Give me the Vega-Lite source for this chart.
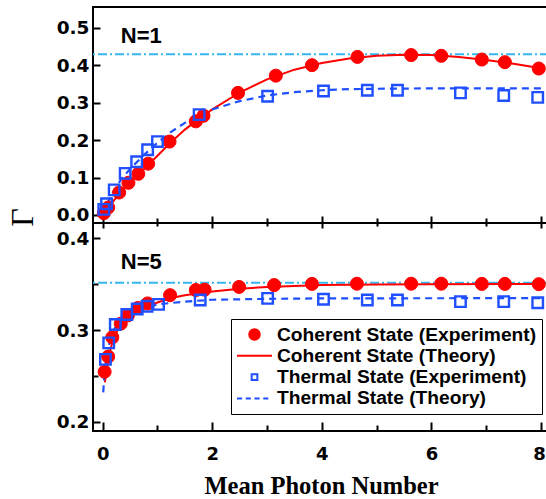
{
  "$schema": "https://vega.github.io/schema/vega-lite/v6.json",
  "background": "white",
  "padding": {"left": 5, "top": 6, "right": 0, "bottom": 0},
  "config": {
    "view": {"stroke": "black", "strokeWidth": 2},
    "axis": {"domain": false, "tickColor": "black", "tickWidth": 2, "grid": false, "labelFont": "DejaVu Sans", "labelFontWeight": "bold", "labelFontSize": 18.5, "labelColor": "black", "labelFlush": false, "labelOverlap": false}
  },
  "datasets": {
    "exp": [
      {"p": "N=1", "s": "Coherent State (Experiment)", "n": 0.02, "g": 0.005},
      {"p": "N=1", "s": "Coherent State (Experiment)", "n": 0.1, "g": 0.02},
      {"p": "N=1", "s": "Coherent State (Experiment)", "n": 0.3, "g": 0.06},
      {"p": "N=1", "s": "Coherent State (Experiment)", "n": 0.47, "g": 0.086},
      {"p": "N=1", "s": "Coherent State (Experiment)", "n": 0.65, "g": 0.11},
      {"p": "N=1", "s": "Coherent State (Experiment)", "n": 0.83, "g": 0.137},
      {"p": "N=1", "s": "Coherent State (Experiment)", "n": 1.22, "g": 0.196},
      {"p": "N=1", "s": "Coherent State (Experiment)", "n": 1.70, "g": 0.25},
      {"p": "N=1", "s": "Coherent State (Experiment)", "n": 1.84, "g": 0.265},
      {"p": "N=1", "s": "Coherent State (Experiment)", "n": 2.47, "g": 0.326},
      {"p": "N=1", "s": "Coherent State (Experiment)", "n": 3.16, "g": 0.372},
      {"p": "N=1", "s": "Coherent State (Experiment)", "n": 3.82, "g": 0.40},
      {"p": "N=1", "s": "Coherent State (Experiment)", "n": 4.65, "g": 0.422},
      {"p": "N=1", "s": "Coherent State (Experiment)", "n": 5.63, "g": 0.427},
      {"p": "N=1", "s": "Coherent State (Experiment)", "n": 6.18, "g": 0.425},
      {"p": "N=1", "s": "Coherent State (Experiment)", "n": 6.92, "g": 0.415},
      {"p": "N=1", "s": "Coherent State (Experiment)", "n": 7.34, "g": 0.408},
      {"p": "N=1", "s": "Coherent State (Experiment)", "n": 7.96, "g": 0.391},
      {"p": "N=1", "s": "Thermal State (Experiment)", "n": 0.02, "g": 0.015},
      {"p": "N=1", "s": "Thermal State (Experiment)", "n": 0.07, "g": 0.03},
      {"p": "N=1", "s": "Thermal State (Experiment)", "n": 0.21, "g": 0.067},
      {"p": "N=1", "s": "Thermal State (Experiment)", "n": 0.41, "g": 0.111},
      {"p": "N=1", "s": "Thermal State (Experiment)", "n": 0.62, "g": 0.142},
      {"p": "N=1", "s": "Thermal State (Experiment)", "n": 0.82, "g": 0.174},
      {"p": "N=1", "s": "Thermal State (Experiment)", "n": 1.0, "g": 0.196},
      {"p": "N=1", "s": "Thermal State (Experiment)", "n": 1.76, "g": 0.268},
      {"p": "N=1", "s": "Thermal State (Experiment)", "n": 3.01, "g": 0.317},
      {"p": "N=1", "s": "Thermal State (Experiment)", "n": 4.03, "g": 0.331},
      {"p": "N=1", "s": "Thermal State (Experiment)", "n": 4.83, "g": 0.333},
      {"p": "N=1", "s": "Thermal State (Experiment)", "n": 5.38, "g": 0.333},
      {"p": "N=1", "s": "Thermal State (Experiment)", "n": 6.53, "g": 0.326},
      {"p": "N=1", "s": "Thermal State (Experiment)", "n": 7.32, "g": 0.319},
      {"p": "N=1", "s": "Thermal State (Experiment)", "n": 7.94, "g": 0.314},
      {"p": "N=5", "s": "Coherent State (Experiment)", "n": 0.035, "g": 0.2545},
      {"p": "N=5", "s": "Coherent State (Experiment)", "n": 0.1, "g": 0.271},
      {"p": "N=5", "s": "Coherent State (Experiment)", "n": 0.175, "g": 0.292},
      {"p": "N=5", "s": "Coherent State (Experiment)", "n": 0.33, "g": 0.307},
      {"p": "N=5", "s": "Coherent State (Experiment)", "n": 0.46, "g": 0.316},
      {"p": "N=5", "s": "Coherent State (Experiment)", "n": 0.64, "g": 0.324},
      {"p": "N=5", "s": "Coherent State (Experiment)", "n": 0.82, "g": 0.329},
      {"p": "N=5", "s": "Coherent State (Experiment)", "n": 1.23, "g": 0.338},
      {"p": "N=5", "s": "Coherent State (Experiment)", "n": 1.70, "g": 0.3436},
      {"p": "N=5", "s": "Coherent State (Experiment)", "n": 1.86, "g": 0.344},
      {"p": "N=5", "s": "Coherent State (Experiment)", "n": 2.49, "g": 0.347},
      {"p": "N=5", "s": "Coherent State (Experiment)", "n": 3.13, "g": 0.349},
      {"p": "N=5", "s": "Coherent State (Experiment)", "n": 3.82, "g": 0.3503},
      {"p": "N=5", "s": "Coherent State (Experiment)", "n": 4.64, "g": 0.3505},
      {"p": "N=5", "s": "Coherent State (Experiment)", "n": 5.63, "g": 0.3505},
      {"p": "N=5", "s": "Coherent State (Experiment)", "n": 6.18, "g": 0.3505},
      {"p": "N=5", "s": "Coherent State (Experiment)", "n": 6.92, "g": 0.3503},
      {"p": "N=5", "s": "Coherent State (Experiment)", "n": 7.34, "g": 0.3503},
      {"p": "N=5", "s": "Coherent State (Experiment)", "n": 7.96, "g": 0.350},
      {"p": "N=5", "s": "Thermal State (Experiment)", "n": 0.05, "g": 0.268},
      {"p": "N=5", "s": "Thermal State (Experiment)", "n": 0.11, "g": 0.286},
      {"p": "N=5", "s": "Thermal State (Experiment)", "n": 0.23, "g": 0.306},
      {"p": "N=5", "s": "Thermal State (Experiment)", "n": 0.44, "g": 0.317},
      {"p": "N=5", "s": "Thermal State (Experiment)", "n": 0.63, "g": 0.323},
      {"p": "N=5", "s": "Thermal State (Experiment)", "n": 0.81, "g": 0.326},
      {"p": "N=5", "s": "Thermal State (Experiment)", "n": 1.02, "g": 0.328},
      {"p": "N=5", "s": "Thermal State (Experiment)", "n": 1.78, "g": 0.3327},
      {"p": "N=5", "s": "Thermal State (Experiment)", "n": 3.01, "g": 0.3345},
      {"p": "N=5", "s": "Thermal State (Experiment)", "n": 4.03, "g": 0.3335},
      {"p": "N=5", "s": "Thermal State (Experiment)", "n": 4.83, "g": 0.3327},
      {"p": "N=5", "s": "Thermal State (Experiment)", "n": 5.38, "g": 0.3327},
      {"p": "N=5", "s": "Thermal State (Experiment)", "n": 6.53, "g": 0.331},
      {"p": "N=5", "s": "Thermal State (Experiment)", "n": 7.32, "g": 0.331},
      {"p": "N=5", "s": "Thermal State (Experiment)", "n": 7.94, "g": 0.3298}
    ],
    "theory": [
      {"p": "N=1", "s": "Coherent State (Theory)", "n": 0, "g": 0},
      {"p": "N=1", "s": "Coherent State (Theory)", "n": 0.1, "g": 0.02},
      {"p": "N=1", "s": "Coherent State (Theory)", "n": 0.2, "g": 0.038},
      {"p": "N=1", "s": "Coherent State (Theory)", "n": 0.35, "g": 0.064},
      {"p": "N=1", "s": "Coherent State (Theory)", "n": 0.5, "g": 0.088},
      {"p": "N=1", "s": "Coherent State (Theory)", "n": 0.7, "g": 0.115},
      {"p": "N=1", "s": "Coherent State (Theory)", "n": 0.85, "g": 0.137},
      {"p": "N=1", "s": "Coherent State (Theory)", "n": 1.0, "g": 0.158},
      {"p": "N=1", "s": "Coherent State (Theory)", "n": 1.25, "g": 0.195},
      {"p": "N=1", "s": "Coherent State (Theory)", "n": 1.5, "g": 0.228},
      {"p": "N=1", "s": "Coherent State (Theory)", "n": 1.75, "g": 0.256},
      {"p": "N=1", "s": "Coherent State (Theory)", "n": 2.0, "g": 0.282},
      {"p": "N=1", "s": "Coherent State (Theory)", "n": 2.5, "g": 0.327},
      {"p": "N=1", "s": "Coherent State (Theory)", "n": 3.0, "g": 0.362},
      {"p": "N=1", "s": "Coherent State (Theory)", "n": 3.5, "g": 0.388},
      {"p": "N=1", "s": "Coherent State (Theory)", "n": 4.0, "g": 0.406},
      {"p": "N=1", "s": "Coherent State (Theory)", "n": 4.5, "g": 0.418},
      {"p": "N=1", "s": "Coherent State (Theory)", "n": 5.0, "g": 0.425},
      {"p": "N=1", "s": "Coherent State (Theory)", "n": 5.5, "g": 0.428},
      {"p": "N=1", "s": "Coherent State (Theory)", "n": 6.0, "g": 0.427},
      {"p": "N=1", "s": "Coherent State (Theory)", "n": 6.5, "g": 0.422},
      {"p": "N=1", "s": "Coherent State (Theory)", "n": 7.0, "g": 0.414},
      {"p": "N=1", "s": "Coherent State (Theory)", "n": 7.5, "g": 0.404},
      {"p": "N=1", "s": "Coherent State (Theory)", "n": 8.0, "g": 0.392},
      {"p": "N=1", "s": "Thermal State (Theory)", "n": 0, "g": 0},
      {"p": "N=1", "s": "Thermal State (Theory)", "n": 0.1, "g": 0.035},
      {"p": "N=1", "s": "Thermal State (Theory)", "n": 0.2, "g": 0.064},
      {"p": "N=1", "s": "Thermal State (Theory)", "n": 0.35, "g": 0.098},
      {"p": "N=1", "s": "Thermal State (Theory)", "n": 0.5, "g": 0.123},
      {"p": "N=1", "s": "Thermal State (Theory)", "n": 0.75, "g": 0.16},
      {"p": "N=1", "s": "Thermal State (Theory)", "n": 1.0, "g": 0.193},
      {"p": "N=1", "s": "Thermal State (Theory)", "n": 1.25, "g": 0.222},
      {"p": "N=1", "s": "Thermal State (Theory)", "n": 1.5, "g": 0.246},
      {"p": "N=1", "s": "Thermal State (Theory)", "n": 1.75, "g": 0.266},
      {"p": "N=1", "s": "Thermal State (Theory)", "n": 2.0, "g": 0.282},
      {"p": "N=1", "s": "Thermal State (Theory)", "n": 2.5, "g": 0.304},
      {"p": "N=1", "s": "Thermal State (Theory)", "n": 3.0, "g": 0.319},
      {"p": "N=1", "s": "Thermal State (Theory)", "n": 3.5, "g": 0.328},
      {"p": "N=1", "s": "Thermal State (Theory)", "n": 4.0, "g": 0.333},
      {"p": "N=1", "s": "Thermal State (Theory)", "n": 4.5, "g": 0.336},
      {"p": "N=1", "s": "Thermal State (Theory)", "n": 5.0, "g": 0.337},
      {"p": "N=1", "s": "Thermal State (Theory)", "n": 6.0, "g": 0.338},
      {"p": "N=1", "s": "Thermal State (Theory)", "n": 7.0, "g": 0.338},
      {"p": "N=1", "s": "Thermal State (Theory)", "n": 8.0, "g": 0.338},
      {"p": "N=5", "s": "Coherent State (Theory)", "n": 0.04, "g": 0.243},
      {"p": "N=5", "s": "Coherent State (Theory)", "n": 0.07, "g": 0.256},
      {"p": "N=5", "s": "Coherent State (Theory)", "n": 0.1, "g": 0.267},
      {"p": "N=5", "s": "Coherent State (Theory)", "n": 0.15, "g": 0.281},
      {"p": "N=5", "s": "Coherent State (Theory)", "n": 0.2, "g": 0.291},
      {"p": "N=5", "s": "Coherent State (Theory)", "n": 0.3, "g": 0.303},
      {"p": "N=5", "s": "Coherent State (Theory)", "n": 0.4, "g": 0.31},
      {"p": "N=5", "s": "Coherent State (Theory)", "n": 0.5, "g": 0.315},
      {"p": "N=5", "s": "Coherent State (Theory)", "n": 0.75, "g": 0.324},
      {"p": "N=5", "s": "Coherent State (Theory)", "n": 1.0, "g": 0.33},
      {"p": "N=5", "s": "Coherent State (Theory)", "n": 1.25, "g": 0.335},
      {"p": "N=5", "s": "Coherent State (Theory)", "n": 1.5, "g": 0.338},
      {"p": "N=5", "s": "Coherent State (Theory)", "n": 2.0, "g": 0.342},
      {"p": "N=5", "s": "Coherent State (Theory)", "n": 2.5, "g": 0.345},
      {"p": "N=5", "s": "Coherent State (Theory)", "n": 3.0, "g": 0.347},
      {"p": "N=5", "s": "Coherent State (Theory)", "n": 4.0, "g": 0.349},
      {"p": "N=5", "s": "Coherent State (Theory)", "n": 5.0, "g": 0.3497},
      {"p": "N=5", "s": "Coherent State (Theory)", "n": 6.0, "g": 0.35},
      {"p": "N=5", "s": "Coherent State (Theory)", "n": 8.0, "g": 0.3502},
      {"p": "N=5", "s": "Thermal State (Theory)", "n": 0.01, "g": 0.232},
      {"p": "N=5", "s": "Thermal State (Theory)", "n": 0.03, "g": 0.25},
      {"p": "N=5", "s": "Thermal State (Theory)", "n": 0.05, "g": 0.262},
      {"p": "N=5", "s": "Thermal State (Theory)", "n": 0.1, "g": 0.281},
      {"p": "N=5", "s": "Thermal State (Theory)", "n": 0.2, "g": 0.3},
      {"p": "N=5", "s": "Thermal State (Theory)", "n": 0.3, "g": 0.309},
      {"p": "N=5", "s": "Thermal State (Theory)", "n": 0.45, "g": 0.316},
      {"p": "N=5", "s": "Thermal State (Theory)", "n": 0.6, "g": 0.321},
      {"p": "N=5", "s": "Thermal State (Theory)", "n": 0.8, "g": 0.325},
      {"p": "N=5", "s": "Thermal State (Theory)", "n": 1.0, "g": 0.328},
      {"p": "N=5", "s": "Thermal State (Theory)", "n": 1.5, "g": 0.331},
      {"p": "N=5", "s": "Thermal State (Theory)", "n": 2.0, "g": 0.333},
      {"p": "N=5", "s": "Thermal State (Theory)", "n": 3.0, "g": 0.334},
      {"p": "N=5", "s": "Thermal State (Theory)", "n": 4.0, "g": 0.3345},
      {"p": "N=5", "s": "Thermal State (Theory)", "n": 8.0, "g": 0.3348}
    ],
    "limits": [
      {"p": "N=1", "g": 0.429},
      {"p": "N=5", "g": 0.3516}
    ],
    "labels": [
      {"p": "N=1", "label": "N=1"},
      {"p": "N=5", "label": "N=5"}
    ]
  },
  "bounds": "flush",
  "spacing": 0,
  "resolve": {"scale": {"x": "independent", "y": "independent", "stroke": "independent", "fill": "independent", "shape": "independent"}},
  "vconcat": [
    {
      "width": 456,
      "height": 216,
      "layer": [
        {
          "data": {"name": "limits"},
          "transform": [{"filter": "datum.p == 'N=1'"}],
          "mark": {"type": "rule", "color": "#35b6ef", "strokeWidth": 2, "strokeDash": [9, 3, 2, 3]},
          "encoding": {"y": {"field": "g", "type": "quantitative", "scale": {"domain": [-0.0214, 0.5553], "nice": false, "zero": false}}}
        },
        {
          "data": {"name": "theory"},
          "transform": [{"filter": "datum.p == 'N=1' && datum.s == 'Coherent State (Theory)'"}],
          "mark": {"type": "line", "color": "#ff0000", "strokeWidth": 2},
          "encoding": {
            "x": {"field": "n", "type": "quantitative", "scale": {"domain": [-0.177, 8.146], "nice": false, "zero": false},
              "axis": {"orient": "bottom", "values": [0, 1, 2, 3, 4, 5, 6, 7, 8], "labels": false, "title": null,
                "tickSize": {"condition": {"test": "datum.value % 2 == 0", "value": -7}, "value": -5}}},
            "y": {"field": "g", "type": "quantitative",
              "axis": {"values": [0, 0.05, 0.1, 0.15, 0.2, 0.25, 0.3, 0.35, 0.4, 0.45, 0.5],
                "labelExpr": "round(datum.value * 20) % 2 == 0 ? format(datum.value, '.1f') : ''",
                "tickSize": {"condition": {"test": "round(datum.value * 20) % 2 == 0", "value": -7}, "value": -4},
                "labelPadding": 11,
                "title": "Γ", "titleFont": "Liberation Serif", "titleFontWeight": "normal", "titleFontSize": 32, "titleColor": "black",
                "titleX": -71, "titleY": 210, "titleAlign": "center", "titleBaseline": "middle", "titleAngle": -90}}
          }
        },
        {
          "data": {"name": "theory"},
          "transform": [{"filter": "datum.p == 'N=1' && datum.s == 'Thermal State (Theory)'"}],
          "mark": {"type": "line", "color": "#1f4fff", "strokeWidth": 2.2, "strokeDash": [7, 5]},
          "encoding": {
            "x": {"field": "n", "type": "quantitative"},
            "y": {"field": "g", "type": "quantitative"}
          }
        },
        {
          "data": {"name": "exp"},
          "transform": [{"filter": "datum.p == 'N=1' && datum.s == 'Coherent State (Experiment)'"}],
          "mark": {"type": "point", "shape": "circle", "filled": true, "color": "#ff0000", "stroke": "#ff0000", "strokeWidth": 1, "size": 170, "opacity": 1},
          "encoding": {
            "x": {"field": "n", "type": "quantitative"},
            "y": {"field": "g", "type": "quantitative"}
          }
        },
        {
          "data": {"name": "exp"},
          "transform": [{"filter": "datum.p == 'N=1' && datum.s == 'Thermal State (Experiment)'"}],
          "mark": {"type": "point", "shape": "square", "filled": false, "color": "#1f4fff", "strokeWidth": 2.4, "size": 110, "opacity": 1},
          "encoding": {
            "x": {"field": "n", "type": "quantitative"},
            "y": {"field": "g", "type": "quantitative"}
          }
        },
        {
          "data": {"name": "labels"},
          "transform": [{"filter": "datum.p == 'N=1'"}],
          "mark": {"type": "text", "align": "left", "baseline": "middle", "font": "Liberation Sans", "fontWeight": "bold", "fontSize": 22, "color": "black"},
          "encoding": {
            "x": {"datum": 0.33, "type": "quantitative"},
            "y": {"datum": 0.478, "type": "quantitative"},
            "text": {"field": "label"}
          }
        }
      ]
    },
    {
      "width": 456,
      "height": 208,
      "resolve": {"axis": {"x": "independent"}},
      "layer": [
        {
          "data": {"name": "limits"},
          "transform": [{"filter": "datum.p == 'N=5'"}],
          "mark": {"type": "rule", "color": "#35b6ef", "strokeWidth": 2, "strokeDash": [9, 3, 2, 3]},
          "encoding": {"y": {"field": "g", "type": "quantitative", "scale": {"domain": [0.1899, 0.4167], "nice": false, "zero": false},
            "axis": {"values": [0.2, 0.25, 0.3, 0.35, 0.4],
              "labelExpr": "round(datum.value * 20) % 2 == 0 ? format(datum.value, '.1f') : ''",
              "tickSize": {"condition": {"test": "round(datum.value * 20) % 2 == 0", "value": -7}, "value": -5},
              "labelPadding": 11, "title": null}}}
        },
        {
          "data": {"name": "theory"},
          "transform": [{"filter": "datum.p == 'N=5' && datum.s == 'Coherent State (Theory)'"}],
          "mark": {"type": "line", "strokeWidth": 2},
          "encoding": {
            "x": {"field": "n", "type": "quantitative", "scale": {"domain": [-0.177, 8.146], "nice": false, "zero": false},
              "axis": {"orient": "top", "values": [0, 1, 2, 3, 4, 5, 6, 7, 8], "labels": false, "title": null,
                "tickSize": {"condition": {"test": "datum.value % 2 == 0", "value": -5}, "value": -3}}},
            "y": {"field": "g", "type": "quantitative"},
            "stroke": {"field": "s", "type": "nominal"}
          }
        },
        {
          "data": {"name": "theory"},
          "transform": [{"filter": "datum.p == 'N=5' && datum.s == 'Thermal State (Theory)'"}],
          "mark": {"type": "line", "strokeWidth": 2.2, "strokeDash": [7, 5]},
          "encoding": {
            "x": {"field": "n", "type": "quantitative", "axis": null},
            "y": {"field": "g", "type": "quantitative"},
            "stroke": {"field": "s", "type": "nominal"}
          }
        },
        {
          "data": {"name": "exp"},
          "transform": [{"filter": "datum.p == 'N=5' && datum.s == 'Coherent State (Experiment)'"}],
          "mark": {"type": "point", "shape": "circle", "filled": true, "strokeWidth": 1, "size": 170, "opacity": 1},
          "encoding": {
            "x": {"field": "n", "type": "quantitative",
              "axis": {"orient": "bottom", "values": [0, 1, 2, 3, 4, 5, 6, 7, 8],
                "labelExpr": "datum.value % 2 == 0 ? datum.label : ''",
                "tickSize": {"condition": {"test": "datum.value % 2 == 0", "value": -9}, "value": -6},
                "labelOffset": {"condition": {"test": "datum.value == 8", "value": -2}, "value": 0},
                "labelPadding": 23, "labelFontSize": 18,
                "title": "Mean Photon Number", "titleFont": "Liberation Serif", "titleFontWeight": "bold", "titleFontSize": 24.5, "titleColor": "black", "titlePadding": 8}},
            "y": {"field": "g", "type": "quantitative"},
            "fill": {"field": "s", "type": "nominal"},
            "stroke": {"field": "s", "type": "nominal"}
          }
        },
        {
          "data": {"name": "exp"},
          "transform": [{"filter": "datum.p == 'N=5' && datum.s == 'Thermal State (Experiment)'"}],
          "mark": {"type": "point", "shape": "square", "filled": false, "strokeWidth": 2.4, "size": 110, "opacity": 1},
          "encoding": {
            "x": {"field": "n", "type": "quantitative", "axis": null},
            "y": {"field": "g", "type": "quantitative"},
            "stroke": {"field": "s", "type": "nominal"}
          }
        },
        {
          "data": {"name": "labels"},
          "transform": [{"filter": "datum.p == 'N=5'"}],
          "mark": {"type": "text", "align": "left", "baseline": "middle", "font": "Liberation Sans", "fontWeight": "bold", "fontSize": 22, "color": "black"},
          "encoding": {
            "x": {"datum": 0.33, "type": "quantitative", "axis": null},
            "y": {"datum": 0.3745, "type": "quantitative"},
            "text": {"field": "label"}
          }
        },
        {
          "data": {"values": []},
          "mark": {"type": "point"},
          "encoding": {
            "stroke": {"field": "s", "type": "nominal",
              "scale": {"domain": ["Coherent State (Experiment)", "Coherent State (Theory)", "Thermal State (Experiment)", "Thermal State (Theory)"],
                "range": ["#ff0000", "#ff0000", "#1f4fff", "#1f4fff"]},
              "legend": {"orient": "none", "legendX": 138, "legendY": 96, "title": null,
                "labelFont": "Liberation Sans", "labelFontWeight": "bold", "labelFontSize": 19.2, "labelColor": "black", "labelLimit": 400,
                "strokeColor": "black", "fillColor": "white", "padding": 5, "clipHeight": 21, "rowPadding": 0.3,
                "labelOffset": 4, "symbolSize": 1225, "symbolStrokeWidth": 2, "symbolOpacity": 1}},
            "fill": {"field": "s", "type": "nominal",
              "scale": {"domain": ["Coherent State (Experiment)", "Coherent State (Theory)", "Thermal State (Experiment)", "Thermal State (Theory)"],
                "range": ["#ff0000", "transparent", "transparent", "transparent"]}},
            "shape": {"field": "s", "type": "nominal",
              "scale": {"domain": ["Coherent State (Experiment)", "Coherent State (Theory)", "Thermal State (Experiment)", "Thermal State (Theory)"],
                "range": [
                  "M-0.3,0A0.3,0.3 0 1,0 0.3,0A0.3,0.3 0 1,0 -0.3,0Z",
                  "M-1,0H1",
                  "M-0.163,-0.163H0.163V0.163H-0.163Z",
                  "M-1,0H-0.71M-0.5,0H-0.21M0,0H0.29M0.5,0H0.79"
                ]}}
          }
        }
      ]
    }
  ]
}
